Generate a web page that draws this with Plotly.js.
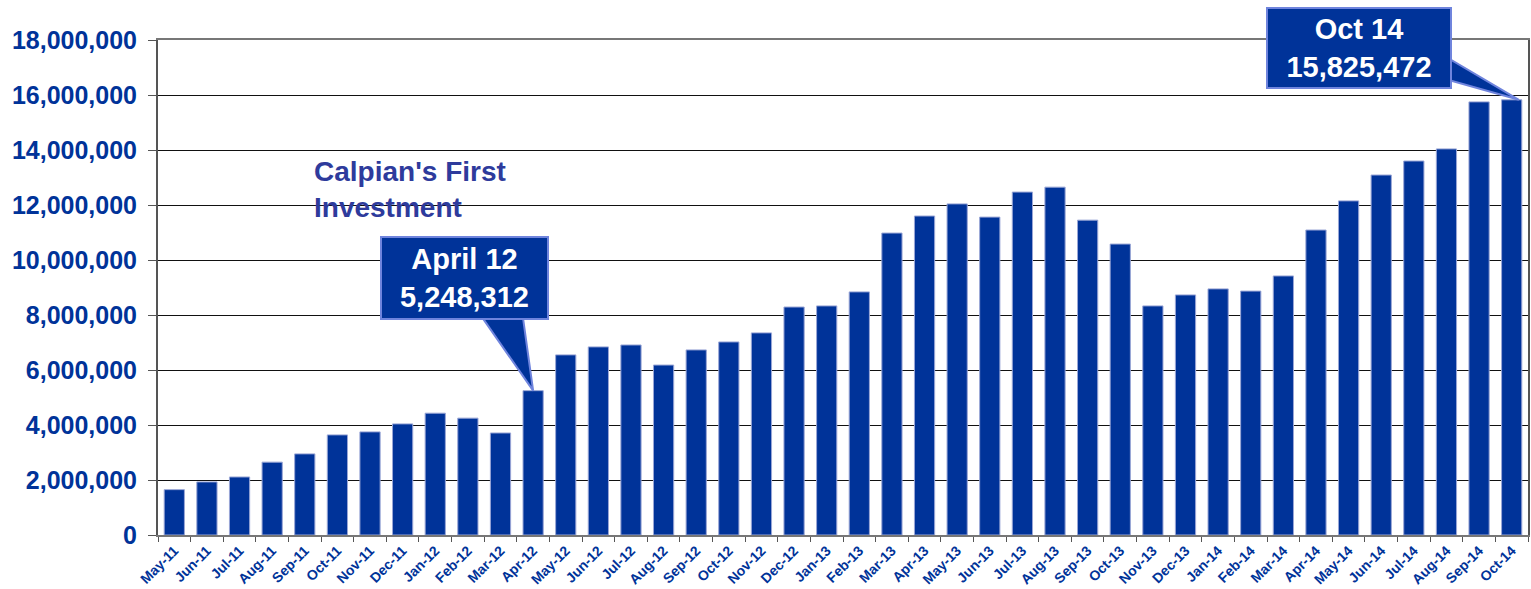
<!DOCTYPE html>
<html>
<head>
<meta charset="utf-8">
<script src="https://cdn.plot.ly/plotly-3.0.1.min.js"></script>
<style>html,body{margin:0;padding:0;background:#fff;}#chart{width:1531px;height:589px;}</style>
</head>
<body>
<div id="chart"></div>
<script>
const months = ["May-11","Jun-11","Jul-11","Aug-11","Sep-11","Oct-11","Nov-11","Dec-11",
  "Jan-12","Feb-12","Mar-12","Apr-12","May-12","Jun-12","Jul-12","Aug-12","Sep-12","Oct-12","Nov-12","Dec-12",
  "Jan-13","Feb-13","Mar-13","Apr-13","May-13","Jun-13","Jul-13","Aug-13","Sep-13","Oct-13","Nov-13","Dec-13",
  "Jan-14","Feb-14","Mar-14","Apr-14","May-14","Jun-14","Jul-14","Aug-14","Sep-14","Oct-14"];
const volumes = [1650000,1930000,2110000,2650000,2950000,3640000,3750000,4040000,
  4430000,4250000,3710000,5248312,6550000,6840000,6910000,6180000,6730000,7020000,7350000,8290000,
  8330000,8840000,10980000,11600000,12040000,11560000,12470000,12650000,11450000,10580000,8330000,8730000,
  8950000,8870000,9420000,11090000,12150000,13090000,13600000,14040000,15750000,15825472];
const yTicks = [0,2000000,4000000,6000000,8000000,10000000,12000000,14000000,16000000,18000000];
const callouts = [
  {month:"Apr-12", label:"April 12"},
  {month:"Oct-14", label:"Oct 14"}
];
const note = "Calpian's First<br>Investment";

const FONT = "Liberation Sans, Arial, sans-serif";
const BLUE = "#003399";
const fmt = v => v.toLocaleString('en-US');

const trace = {
  type: 'bar', x: months, y: volumes,
  marker: {color: BLUE, line: {color: '#9aa6d6', width: 1}},
  hoverinfo: 'x+y'
};

const i1 = months.indexOf(callouts[0].month), v1 = volumes[i1];
const i2 = months.indexOf(callouts[1].month), v2 = volumes[i2];

const layout = {
  width: 1531, height: 589,
  margin: {l: 158, r: 3, t: 40, b: 54},
  paper_bgcolor: '#fff', plot_bgcolor: '#fff',
  bargap: 0.38,
  showlegend: false,
  xaxis: {
    type: 'category', tickangle: -45,
    tickfont: {family: FONT, size: 14, color: BLUE, weight: 'bold'},
    ticks: 'outside', ticklen: 5, tickcolor: '#555', tickson: 'boundaries',
    showline: true, linecolor: '#777', linewidth: 2, mirror: true,
    showgrid: false, automargin: false
  },
  yaxis: {
    range: [0, 18000000], tickvals: yTicks, tickformat: ',d',
    tickfont: {family: FONT, size: 25, color: BLUE, weight: 'bold'},
    ticks: 'outside', ticklen: 8, tickcolor: '#555',
    showline: true, linecolor: '#555', linewidth: 2, mirror: true,
    showgrid: true, gridcolor: '#111', gridwidth: 1,
    zeroline: false, automargin: false, ticklabelstandoff: 6
  },
  shapes: [
    {type: 'path', xref: 'x', yref: 'y', layer: 'above',
     path: `M 9.3 8150000 L 10.66 8150000 L ${i1} ${v1} Z`,
     fillcolor: BLUE, line: {color: '#6f84dd', width: 2}},
    {type: 'path', xref: 'x', yref: 'y', layer: 'above',
     path: `M 38.9 17450000 L 38.9 16600000 L ${i2 + 0.22} ${v2} Z`,
     fillcolor: BLUE, line: {color: '#6f84dd', width: 2}}
  ],
  annotations: [
    {xref: 'paper', yref: 'paper', x: 0.2237, y: 0.519, xanchor: 'center', yanchor: 'middle',
     text: `${callouts[0].label}<br>${fmt(v1)}`, showarrow: false,
     font: {family: FONT, size: 29, color: '#fff', weight: 'bold'},
     bgcolor: BLUE, bordercolor: '#6f84dd', borderwidth: 2, borderpad: 1, width: 163, height: 78},
    {xref: 'paper', yref: 'paper', x: 0.8766, y: 0.984, xanchor: 'center', yanchor: 'middle',
     text: `${callouts[1].label}<br>${fmt(v2)}`, showarrow: false,
     font: {family: FONT, size: 29, color: '#fff', weight: 'bold'},
     bgcolor: BLUE, bordercolor: '#6f84dd', borderwidth: 2, borderpad: 1, width: 180, height: 76},
    {xref: 'paper', yref: 'paper', x: (312 - 158) / 1370, y: (535 - 154) / 495, xanchor: 'left', yanchor: 'top',
     text: note, showarrow: false, align: 'left',
     font: {family: FONT, size: 28, color: '#2e3b9c', weight: 'bold'}}
  ]
};

Plotly.newPlot('chart', [trace], layout, {displayModeBar: false, staticPlot: true});
</script>
</body>
</html>
